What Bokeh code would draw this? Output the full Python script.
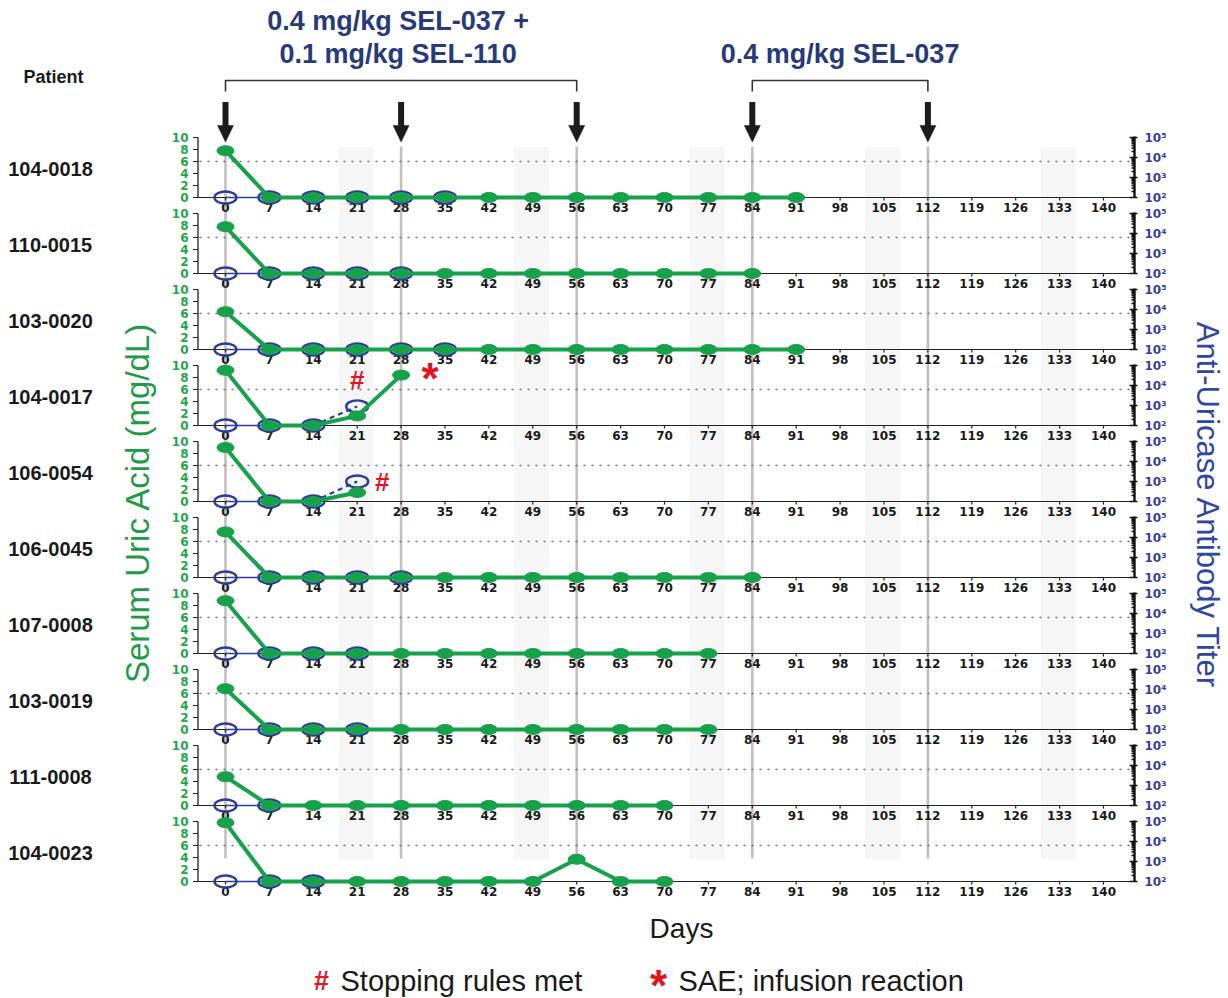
import math
from bokeh.plotting import figure
from bokeh.models import Range1d
from bokeh.core.properties import value
from bokeh.embed import file_html
from bokeh.resources import INLINE

# ---------------- data ----------------
day_ticks = [0, 7, 14, 21, 28, 35, 42, 49, 56, 63, 70, 77, 84, 91, 98, 105, 112, 119, 126, 133, 140]
uric_ticks = [0, 2, 4, 6, 8, 10]
uric_threshold = 6
titer_ticks = [100, 1000, 10000, 100000]
titer_labels = ["10\u00b2", "10\u00b3", "10\u2074", "10\u2075"]

dose_days = [0, 28, 56, 84, 112]
visit_window_days = [21, 49, 77, 105, 133]
regimen_spans = [(0, 56), (84, 112)]
regimen_lines = [["0.4 mg/kg SEL-037 +", "0.1 mg/kg SEL-110"], ["0.4 mg/kg SEL-037"]]

patients = ["104-0018", "110-0015", "103-0020", "104-0017", "106-0054",
            "106-0045", "107-0008", "103-0019", "111-0008", "104-0023"]

# serum uric acid (mg/dL)
ua_days_104_0018 = [0, 7, 14, 21, 28, 35, 42, 49, 56, 63, 70, 77, 84, 91]
ua_104_0018 = [7.8, 0, 0, 0, 0, 0, 0, 0, 0, 0, 0, 0, 0, 0]
ua_days_110_0015 = [0, 7, 14, 21, 28, 35, 42, 49, 56, 63, 70, 77, 84]
ua_110_0015 = [7.8, 0, 0, 0, 0, 0, 0, 0, 0, 0, 0, 0, 0]
ua_days_103_0020 = [0, 7, 14, 21, 28, 35, 42, 49, 56, 63, 70, 77, 84, 91]
ua_103_0020 = [6.3, 0, 0, 0, 0, 0, 0, 0, 0, 0, 0, 0, 0, 0]
ua_days_104_0017 = [0, 7, 14, 21, 28]
ua_104_0017 = [9.2, 0, 0, 1.6, 8.4]
ua_days_106_0054 = [0, 7, 14, 21]
ua_106_0054 = [9.0, 0, 0, 1.5]
ua_days_106_0045 = [0, 7, 14, 21, 28, 35, 42, 49, 56, 63, 70, 77, 84]
ua_106_0045 = [7.6, 0, 0, 0, 0, 0, 0, 0, 0, 0, 0, 0, 0]
ua_days_107_0008 = [0, 7, 14, 21, 28, 35, 42, 49, 56, 63, 70, 77]
ua_107_0008 = [8.8, 0, 0, 0, 0, 0, 0, 0, 0, 0, 0, 0]
ua_days_103_0019 = [0, 7, 14, 21, 28, 35, 42, 49, 56, 63, 70, 77]
ua_103_0019 = [6.8, 0, 0, 0, 0, 0, 0, 0, 0, 0, 0, 0]
ua_days_111_0008 = [0, 7, 14, 21, 28, 35, 42, 49, 56, 63, 70]
ua_111_0008 = [4.8, 0, 0, 0, 0, 0, 0, 0, 0, 0, 0]
ua_days_104_0023 = [0, 7, 14, 21, 28, 35, 42, 49, 56, 63, 70]
ua_104_0023 = [9.8, 0, 0, 0, 0, 0, 0, 0, 3.7, 0, 0]

# anti-uricase antibody titer (100 = baseline / below detection)
ab_days_104_0018 = [0, 7, 14, 21, 28, 35]
ab_104_0018 = [100, 100, 100, 100, 100, 100]
ab_days_110_0015 = [0, 7, 14, 21, 28]
ab_110_0015 = [100, 100, 100, 100, 100]
ab_days_103_0020 = [0, 7, 14, 21, 28, 35]
ab_103_0020 = [100, 100, 100, 100, 100, 100]
ab_days_104_0017 = [0, 7, 14, 21]
ab_104_0017 = [100, 100, 100, 900]
ab_days_106_0054 = [0, 7, 14, 21]
ab_106_0054 = [100, 100, 100, 1000]
ab_days_106_0045 = [0, 7, 14, 21, 28]
ab_106_0045 = [100, 100, 100, 100, 100]
ab_days_107_0008 = [0, 7, 14, 21]
ab_107_0008 = [100, 100, 100, 100]
ab_days_103_0019 = [0, 7, 14, 21]
ab_103_0019 = [100, 100, 100, 100]
ab_days_111_0008 = [0, 7]
ab_111_0008 = [100, 100]
ab_days_104_0023 = [0, 7, 14]
ab_104_0023 = [100, 100, 100]

ua_days = [ua_days_104_0018, ua_days_110_0015, ua_days_103_0020, ua_days_104_0017, ua_days_106_0054,
           ua_days_106_0045, ua_days_107_0008, ua_days_103_0019, ua_days_111_0008, ua_days_104_0023]
ua_vals = [ua_104_0018, ua_110_0015, ua_103_0020, ua_104_0017, ua_106_0054,
           ua_106_0045, ua_107_0008, ua_103_0019, ua_111_0008, ua_104_0023]
ab_days = [ab_days_104_0018, ab_days_110_0015, ab_days_103_0020, ab_days_104_0017, ab_days_106_0054,
           ab_days_106_0045, ab_days_107_0008, ab_days_103_0019, ab_days_111_0008, ab_days_104_0023]
ab_vals = [ab_104_0018, ab_110_0015, ab_103_0020, ab_104_0017, ab_106_0054,
           ab_106_0045, ab_107_0008, ab_103_0019, ab_111_0008, ab_104_0023]

# event flags: (patient, day)
stop_rule_flags = [("104-0017", 21), ("106-0054", 21)]
sae_flags = [("104-0017", 28)]

# ---------------- layout helpers ----------------
W, H = 1228, 998
PPD = 6.2714          # px per day
X0 = 225.0            # px of day 0
UNIT = 6.0            # px per mg/dL
Y0 = 197.0            # px of first panel baseline
PITCH = 76.0 / UNIT   # panel spacing in mg/dL units


def X(px):
    return (px - X0) / PPD


def Y(py):
    return (Y0 - py) / UNIT


def dxp(px):
    return px / PPD


def dyp(px):
    return px / UNIT


def titer_y(t):
    return (math.log10(t) - 2.0) * 10.0 / 3.0


GREEN = "#17a14a"
GREEN_TXT = "#22a64a"
NAVY = "#2b3c9c"
NAVY_TXT = "#273a7a"
RED = "#e3141d"
GREY_LINE = "#c3bfbf"
BAND = "#f6f6f6"
SANS = value("Liberation Sans")
TICKF = value("DejaVu Sans")

p = figure(width=W, height=H, x_range=Range1d(X(0), X(W)), y_range=Range1d(Y(H), Y(0)),
           output_backend="svg", toolbar_location=None, min_border=0,
           x_axis_location=None, y_axis_location=None)
p.grid.visible = False
p.outline_line_color = None
p.background_fill_color = "white"
p.border_fill_color = "white"

# shaded visit windows and dose lines
p.quad(left=[d - 3.0 for d in visit_window_days], right=[d + 2.6 for d in visit_window_days],
       bottom=Y(859), top=Y(146.5), fill_color=BAND, line_color=None)
p.segment(x0=dose_days, y0=[Y(146)] * len(dose_days), x1=dose_days, y1=[Y(858)] * len(dose_days),
          line_color=GREY_LINE, line_width=2.6)

# dose arrows
p.segment(x0=dose_days, y0=[Y(101.5)] * len(dose_days), x1=dose_days, y1=[Y(126)] * len(dose_days),
          line_color="#1c1c1c", line_width=6, line_cap="butt")
p.patches(xs=[[d - dxp(8), d + dxp(8), d] for d in dose_days],
          ys=[[Y(125), Y(125), Y(141.5)] for d in dose_days],
          fill_color="#1c1c1c", line_color="#1c1c1c", line_width=0.5)

# regimen brackets and labels
p.multi_line(xs=[[a, a, b, b] for a, b in regimen_spans],
             ys=[[Y(91), Y(80), Y(80), Y(91)] for _ in regimen_spans],
             line_color="#333333", line_width=1.6)
rx, ry, rt = [], [], []
for g, ((a, b), lines) in enumerate(zip(regimen_spans, regimen_lines)):
    for k, t in enumerate(reversed(lines)):
        rx.append((a + b) / 2.0 - (dxp(3) if g == 0 else 0.0))
        ry.append(Y(53 - 33 * k))
        rt.append(t)
p.text(x=rx, y=ry, text=rt, text_align="center", text_baseline="middle",
       text_font=SANS, text_font_style="bold", text_font_size="27px", text_color=NAVY_TXT)

# ---------------- panels ----------------
la_y0, la_y1 = [], []
lt_x0, lt_x1, lt_y = [], [], []
ll_x, ll_y, ll_t = [], [], []
bl_y = []
xt_x, xt_y0, xt_y1 = [], [], []
xl_x, xl_y, xl_t = [], [], []
ra_y0, ra_y1 = [], []
rt_x0, rt_x1, rt_y = [], [], []
rl_y, rl_t = [], []
ab_solid_xs, ab_solid_ys, ab_dash_xs, ab_dash_ys = [], [], [], []
abx, aby = [], []
ua_xs, ua_ys = [], []
uax, uay = [], []
pid_y = []

LX = X(197.5)
RX = X(1134)
for i in range(len(patients)):
    b = -i * PITCH
    pid_y.append(b + dyp(28.5))
    # left axis
    la_y0.append(b)
    la_y1.append(b + uric_ticks[-1])
    for t in uric_ticks:
        lt_x0.append(X(192.5)); lt_x1.append(LX); lt_y.append(b + t)
        ll_x.append(X(188)); ll_y.append(b + t); ll_t.append(str(t))
    bl_y.append(b)
    # x ticks + labels
    for d in day_ticks:
        xt_x.append(d); xt_y0.append(b); xt_y1.append(b - dyp(3))
        xl_x.append(d); xl_y.append(b - dyp(10)); xl_t.append(str(d))
    # right log axis
    ra_y0.append(b)
    ra_y1.append(b + titer_y(titer_ticks[-1]) + dyp(1))
    for t, lab in zip(titer_ticks, titer_labels):
        rt_x0.append(RX - dxp(5)); rt_x1.append(RX + dxp(3)); rt_y.append(b + titer_y(t))
        rl_y.append(b + titer_y(t)); rl_t.append(lab)
    for dec in titer_ticks[:-1]:
        for m in range(2, 10):
            rt_x0.append(RX - dxp(3)); rt_x1.append(RX); rt_y.append(b + titer_y(dec * m))
    # antibody titer
    ad, av = ab_days[i], ab_vals[i]
    for k in range(len(ad) - 1):
        seg_x = [ad[k], ad[k + 1]]
        seg_y = [b + titer_y(av[k]), b + titer_y(av[k + 1])]
        if av[k + 1] > av[k]:
            ab_dash_xs.append(seg_x); ab_dash_ys.append(seg_y)
        else:
            ab_solid_xs.append(seg_x); ab_solid_ys.append(seg_y)
    for d, v in zip(ad, av):
        abx.append(d); aby.append(b + titer_y(v))
    # uric acid
    ua_xs.append(list(ua_days[i]))
    ua_ys.append([b + v for v in ua_vals[i]])
    for d, v in zip(ua_days[i], ua_vals[i]):
        uax.append(d); uay.append(b + v)

n = len(patients)
# threshold dotted line
p.segment(x0=[X(199)] * n, y0=[y + uric_threshold for y in bl_y], x1=[X(1132)] * n,
          y1=[y + uric_threshold for y in bl_y], line_color="#707070", line_width=1.3, line_dash="2 6")
# baselines
p.segment(x0=[LX] * n, y0=bl_y, x1=[RX] * n, y1=bl_y, line_color="#222222", line_width=1.2)
# left axes
p.segment(x0=[LX] * n, y0=la_y0, x1=[LX] * n, y1=la_y1, line_color="#222222", line_width=1.3)
p.segment(x0=lt_x0, y0=lt_y, x1=lt_x1, y1=lt_y, line_color="#222222", line_width=1.2)
p.text(x=ll_x, y=ll_y, text=ll_t, text_align="right", text_baseline="middle",
       text_font=TICKF, text_font_style="bold", text_font_size="12px", text_color=GREEN_TXT)
# x ticks
p.segment(x0=xt_x, y0=xt_y0, x1=xt_x, y1=xt_y1, line_color="#222222", line_width=1.2)
p.text(x=xl_x, y=xl_y, text=xl_t, text_align="center", text_baseline="middle",
       text_font=TICKF, text_font_style="bold", text_font_size="12px", text_color="#1a1a1a")
# right axes
p.segment(x0=[RX] * n, y0=ra_y0, x1=[RX] * n, y1=ra_y1, line_color="#111111", line_width=2.4)
p.segment(x0=rt_x0, y0=rt_y, x1=rt_x1, y1=rt_y, line_color="#111111", line_width=1.5)
p.text(x=[X(1144)] * len(rl_y), y=rl_y, text=rl_t, text_align="left", text_baseline="middle",
       text_font=TICKF, text_font_style="bold", text_font_size="12px", text_color="#34409a")

# titer series
p.multi_line(xs=ab_solid_xs, ys=ab_solid_ys, line_color=NAVY, line_width=1.6)
p.multi_line(xs=ab_dash_xs, ys=ab_dash_ys, line_color=NAVY, line_width=2.2, line_dash="5 4")
p.ellipse(x=abx, y=aby, width=22, height=12, width_units="screen", height_units="screen",
          fill_color=None, line_color=NAVY, line_width=2.4)
# uric acid series
p.multi_line(xs=ua_xs, ys=ua_ys, line_color=GREEN, line_width=4)
p.ellipse(x=uax, y=uay, width=17, height=10, width_units="screen", height_units="screen",
          fill_color=GREEN, line_color=GREEN, line_width=1)

# event flags
fx, fy = [], []
for pid, d in stop_rule_flags:
    i = patients.index(pid)
    j = ua_days[i].index(d)
    fx.append(d)
    fy.append(-i * PITCH + ua_vals[i][j])
# '#' placed above (first) / right of (second) the flagged point
p.text(x=[fx[0], fx[1] + dxp(25)], y=[fy[0] + dyp(36), fy[1] + dyp(11)], text=["#", "#"],
       text_align="center", text_baseline="middle", text_font=SANS, text_font_style="bold",
       text_font_size="26px", text_color=RED)
sx, sy = [], []
for pid, d in sae_flags:
    i = patients.index(pid)
    j = ua_days[i].index(d)
    sx.append(d + dxp(29))
    sy.append(-i * PITCH + ua_vals[i][j] - dyp(3))
p.text(x=sx, y=sy, text=["*"] * len(sx), text_align="center", text_baseline="alphabetic",
       text_font=SANS, text_font_style="bold", text_font_size="44px", text_color=RED)

# patient labels
p.text(x=[X(50)] * n, y=pid_y, text=patients, text_align="center", text_baseline="middle",
       text_font=SANS, text_font_style="bold", text_font_size="20px", text_color="#1a1a1a")
p.text(x=[X(53)], y=[Y(76.5)], text=["Patient"], text_align="center", text_baseline="middle",
       text_font=SANS, text_font_style="bold", text_font_size="18px", text_color="#1a1a1a")

# axis titles
p.text(x=[X(137)], y=[Y(502)], text=["Serum Uric Acid (mg/dL)"], angle=math.pi / 2,
       text_align="center", text_baseline="middle", text_font=SANS, text_font_size="33px",
       text_color="#1f9b47")
p.text(x=[X(1207)], y=[Y(505)], text=["Anti-Uricase Antibody Titer"], angle=-math.pi / 2,
       text_align="center", text_baseline="middle", text_font=SANS, text_font_size="31px",
       text_color="#2f47a0")
p.text(x=[X(681)], y=[Y(928)], text=["Days"], text_align="center", text_baseline="middle",
       text_font=SANS, text_font_size="28px", text_color="#1a1a1a")

# legend
p.text(x=[X(321)], y=[Y(980)], text=["#"], text_align="center", text_baseline="middle",
       text_font=SANS, text_font_style="bold", text_font_size="27px", text_color=RED)
p.text(x=[X(340), X(678)], y=[Y(980), Y(980)], text=["Stopping rules met", "SAE; infusion reaction"],
       text_align="left", text_baseline="middle", text_font=SANS, text_font_size="29px",
       text_color="#1a1a1a")
p.text(x=[X(658)], y=[Y(985)], text=["*"], text_align="center", text_baseline="alphabetic",
       text_font=SANS, text_font_style="bold", text_font_size="44px", text_color=RED)

open("out.html", "w").write(file_html(p, INLINE))
